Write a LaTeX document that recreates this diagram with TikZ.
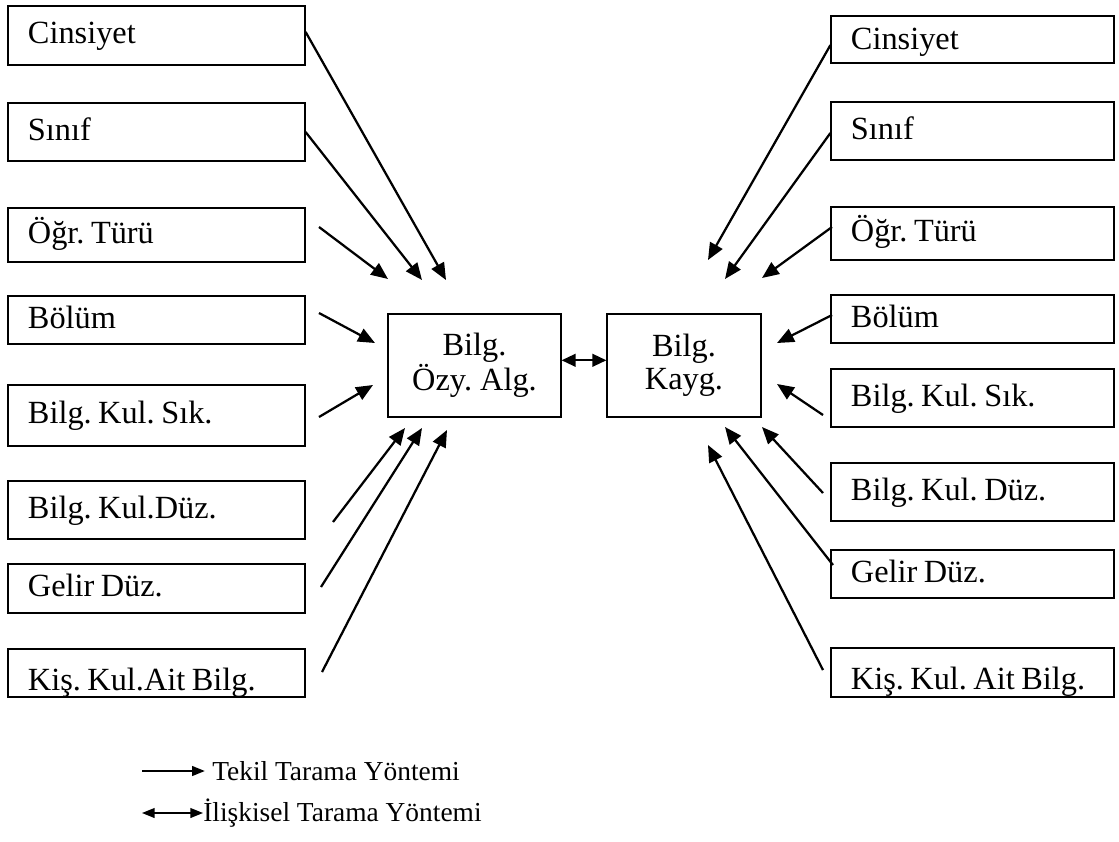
\documentclass[tikz,border=0pt]{standalone}
\usepackage{fontspec}
\setmainfont{Liberation Serif}
\usepackage{tikz}
\usetikzlibrary{arrows.meta}

\tikzset{
	kutu/.style={draw, line width=0.8pt, inner xsep=0.5cm, inner ysep=0pt, align=left,
		text height=0.6cm, text depth=0.18cm, font=\fontsize{23}{26}\selectfont,
		execute at begin node={\frenchspacing\spaceskip=0.2em plus 0.1em}},
	solkutu/.style={kutu, text width=6.425cm},
	sagkutu/.style={kutu, text width=6.075cm},
	orta/.style={draw, line width=0.8pt, align=center, minimum height=2.575cm,
		font=\fontsize{23}{23.5}\selectfont, execute at begin node=\frenchspacing},
	ok/.style={line width=1.6pt, -{Triangle[length=12pt,width=10pt]}},
	iki ok/.style={line width=1.6pt, {Triangle[length=10pt,width=9pt]}-{Triangle[length=10pt,width=9pt]}},
	lejant/.style={anchor=west, inner sep=0pt, font=\fontsize{19.5}{22}\selectfont},
}

\begin{document}
\begin{tikzpicture}[x=0.025cm, y=-0.025cm]
			%%%%% START %%%%%
			\useasboundingbox (0, 0) rectangle (1119, 842);
			
			% sol kutular
			\node[solkutu, minimum height=1.475cm] (lcins) at (156.5, 35.5) {Cinsiyet};
			\node[solkutu, minimum height=1.45cm] (lsinif) at (156.5, 132) {Sınıf};
			\node[solkutu, minimum height=1.35cm] (logr) at (156.5, 235) {Öğr. Türü};
			\node[solkutu, minimum height=1.2cm] (lbolum) at (156.5, 320) {Bölüm};
			\node[solkutu, minimum height=1.525cm] (lsik) at (156.5, 415.5) {Bilg. Kul. Sık.};
			\node[solkutu, minimum height=1.45cm] (lduz) at (156.5, 510) {Bilg. Kul.Düz.};
			\node[solkutu, minimum height=1.225cm] (lgelir) at (156.5, 588.5) {Gelir Düz.};
			\node[solkutu, minimum height=1.2cm, text height=0.85cm, text depth=0pt] (lkis) at (156.5, 673) {Kiş. Kul.Ait Bilg.};
			
			% sag kutular
			\node[sagkutu, minimum height=1.175cm, text depth=0.1cm] (rcins) at (972.5, 39.5) {Cinsiyet};
			\node[sagkutu, minimum height=1.45cm] (rsinif) at (972.5, 131) {Sınıf};
			\node[sagkutu, minimum height=1.325cm] (rogr) at (972.5, 233.5) {Öğr. Türü};
			\node[sagkutu, minimum height=1.2cm] (rbolum) at (972.5, 319) {Bölüm};
			\node[sagkutu, minimum height=1.45cm] (rsik) at (972.5, 398) {Bilg. Kul. Sık.};
			\node[sagkutu, minimum height=1.45cm] (rduz) at (972.5, 492) {Bilg. Kul. Düz.};
			\node[sagkutu, minimum height=1.2cm] (rgelir) at (972.5, 574) {Gelir Düz.};
			\node[sagkutu, minimum height=1.225cm, text height=0.85cm, text depth=0pt] (rkis) at (972.5, 672.5) {Kiş. Kul. Ait Bilg.};
			
			% orta kutular
			\node[orta, minimum width=4.325cm] (ozy) at (474.5, 365.5) {Bilg.\\Özy. Alg.};
			\node[orta, minimum width=3.85cm] (kayg) at (684, 365.5) {Bilg.\\Kayg.};
			\draw[iki ok] ([yshift=0.13cm]ozy.east) -- ([yshift=0.13cm]kayg.west);
			
			% ok uclari
			\coordinate (l1) at (446, 280);
			\coordinate (l2) at (422, 280);
			\coordinate (l3a) at (319, 227);
			\coordinate (l3) at (388, 279);
			\coordinate (l4a) at (319, 313);
			\coordinate (l4) at (375, 343);
			\coordinate (l5a) at (319, 417);
			\coordinate (l5) at (373, 385);
			\coordinate (l6a) at (333, 522);
			\coordinate (l6) at (405, 428);
			\coordinate (l7a) at (321, 587);
			\coordinate (l7) at (422, 428);
			\coordinate (l8a) at (322, 672);
			\coordinate (l8) at (447, 430);
			
			\coordinate (r1) at (708, 260);
			\coordinate (r2) at (725, 279);
			\coordinate (r3a) at (832, 227);
			\coordinate (r3) at (762, 278);
			\coordinate (r4a) at (832, 315);
			\coordinate (r4) at (777, 343);
			\coordinate (r5a) at (823, 415);
			\coordinate (r5) at (777, 384);
			\coordinate (r6a) at (823, 493);
			\coordinate (r6) at (762, 427);
			\coordinate (r7a) at (833, 565);
			\coordinate (r7) at (725, 427);
			\coordinate (r8a) at (823, 670);
			\coordinate (r8) at (708, 445);
			
			% sol oklar
			\draw[ok] ([yshift=0.09cm]lcins.east) -- (l1);
			\draw[ok] (lsinif.east) -- (l2);
			\draw[ok] (l3a) -- (l3);
			\draw[ok] (l4a) -- (l4);
			\draw[ok] (l5a) -- (l5);
			\draw[ok] (l6a) -- (l6);
			\draw[ok] (l7a) -- (l7);
			\draw[ok] (l8a) -- (l8);
			
			% sag oklar
			\draw[ok] ([yshift=-0.14cm]rcins.west) -- (r1);
			\draw[ok] ([yshift=-0.05cm]rsinif.west) -- (r2);
			\draw[ok] (r3a) -- (r3);
			\draw[ok] (r4a) -- (r4);
			\draw[ok] (r5a) -- (r5);
			\draw[ok] (r6a) -- (r6);
			\draw[ok] (r7a) -- (r7);
			\draw[ok] (r8a) -- (r8);
			
			% lejant
			\node[lejant] (tekil) at (212, 771) {Tekil Tarama Yöntemi};
			\node[lejant] (iliski) at (203, 813) {İlişkisel Tarama Yöntemi};
			\coordinate (t0) at (142, 771);
			\coordinate (i0) at (142, 813);
			\draw[line width=1pt, -{Triangle[length=9pt,width=7pt]}] (t0) -- ([xshift=-0.18cm]tekil.west);
			\draw[line width=1pt, {Triangle[length=9pt,width=7pt]}-{Triangle[length=9pt,width=7pt]}] (i0) -- (iliski.west);
			
			%%%%% END %%%%%
\end{tikzpicture}
\end{document}
